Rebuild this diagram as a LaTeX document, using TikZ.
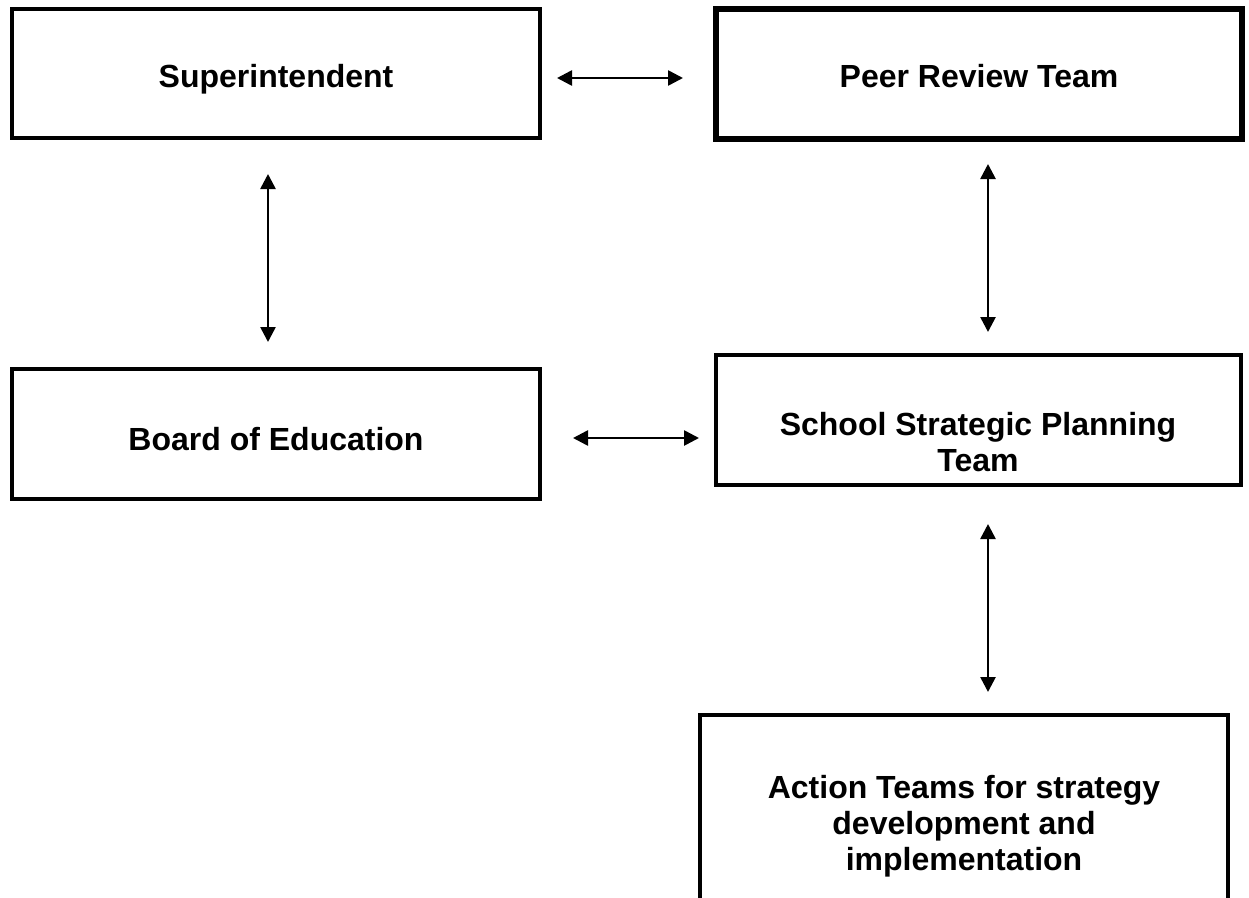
\documentclass[tikz,border=0pt]{standalone}
\usepackage{fontspec}
\setmainfont{Liberation Sans}
\usetikzlibrary{arrows.meta}
\begin{document}
\begin{tikzpicture}[x=1pt,y=-1pt,
  box/.style={draw, rectangle, line width=4pt, inner sep=0pt},
  boxtext/.style={font=\bfseries\fontsize{32}{36}\selectfont, align=center, inner sep=0pt},
  twoway/.style={line width=2.6pt, {Triangle[length=15pt,width=15pt]}-{Triangle[length=15pt,width=15pt]}}]
\clip (0,0) rectangle (1249,897);
\fill[white] (0,0) rectangle (1249,897);

% boxes
\node[box, minimum width=528pt, minimum height=129pt] (sup) at (276,73.5) {};
\node[box, line width=6pt, minimum width=526pt, minimum height=130pt] (peer) at (979,74) {};
\node[box, minimum width=528pt, minimum height=130pt] (board) at (276,434) {};
\node[box, minimum width=525pt, minimum height=130pt] (ssp) at (978.5,420) {};
\node[box, minimum width=528pt, minimum height=220pt] (act) at (964,825) {};

% labels
\node[boxtext, anchor=base] (tsup) at (276,87) {Superintendent};
\node[boxtext, anchor=base] (tpeer) at (979,87) {Peer Review Team};
\node[boxtext, anchor=base] (tboard) at (276,450) {Board of Education};
\node[boxtext, anchor=north] (tssp) at (978,412) {School Strategic Planning\\Team};
\node[boxtext, anchor=north] (tact) at (964,775) {Action Teams for strategy\\development and\\implementation};

% connectors
\draw[twoway, shorten <=15pt, shorten >=30pt] ([yshift=-4.5pt]sup.east) -- ([yshift=-4pt]peer.west);
\draw[twoway, shorten <=34pt, shorten >=25pt] ([xshift=-8pt]sup.south) -- ([xshift=-8pt]board.north);
\draw[twoway, shorten <=22pt, shorten >=21pt] ([xshift=9pt]peer.south) -- ([xshift=9.5pt]ssp.north);
\draw[twoway, shorten <=31pt, shorten >=15pt] ([yshift=-4pt]board.east) -- ([yshift=-18pt]ssp.west);
\draw[twoway, shorten <=37pt, shorten >=21pt] ([xshift=9.5pt]ssp.south) -- ([xshift=24pt]act.north);
\end{tikzpicture}
\end{document}
